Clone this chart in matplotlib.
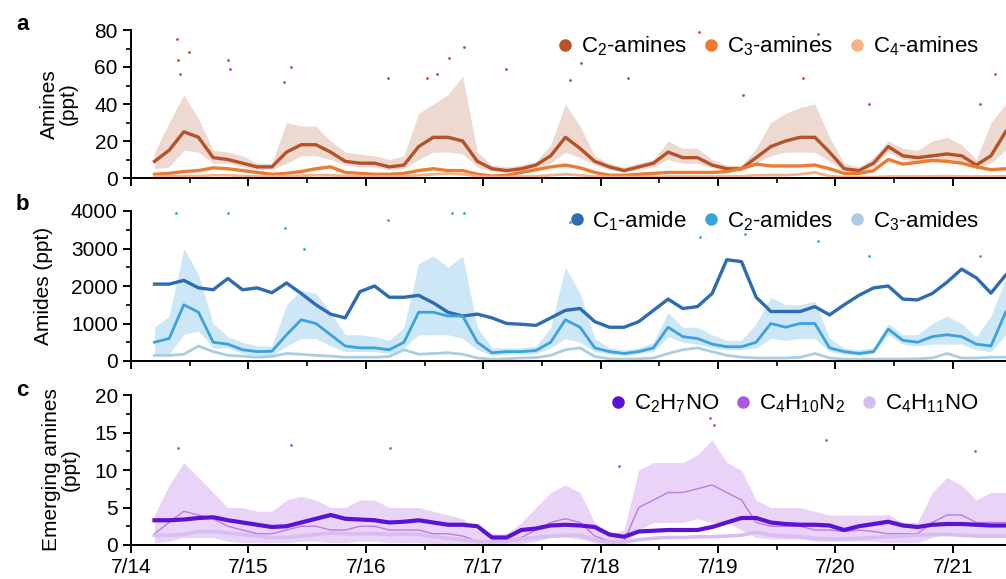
import numpy as np
import matplotlib
matplotlib.use('Agg')
import matplotlib.pyplot as plt
from matplotlib.lines import Line2D
from matplotlib.ticker import MultipleLocator

plt.rcParams['font.family'] = ['Liberation Sans', 'DejaVu Sans']
plt.rcParams['mathtext.fontset'] = 'custom'
plt.rcParams['mathtext.rm'] = 'Liberation Sans'
plt.rcParams['mathtext.it'] = 'Liberation Sans:italic'
plt.rcParams['mathtext.bf'] = 'Liberation Sans:bold'

# ---------------- data (3-hourly readings, day of July) ----------------
t_start, t_step, n_pts = 14.2, 0.125, 59
times = t_start + t_step * np.arange(n_pts)

day_ticks = [14, 15, 16, 17, 18, 19, 20, 21]
day_labels = ['7/14', '7/15', '7/16', '7/17', '7/18', '7/19', '7/20', '7/21']

# panel a: amines (ppt)
c2_amines = [9, 15, 25, 22, 11, 10, 8, 6, 6, 14, 18, 18, 14, 9, 8, 8, 6, 7, 17, 22,
             22, 20, 9, 5, 4, 5, 7, 12, 22, 16, 9, 6, 4, 6, 8, 14, 11, 11, 7, 5,
             5, 11, 17, 20, 22, 22, 14, 5, 4, 8, 17, 12, 11, 12, 13, 12, 7, 12, 25]
c2_amines_hi = [14, 30, 45, 32, 15, 14, 12, 8, 8, 30, 28, 28, 20, 14, 13, 12, 10, 12, 35, 40,
                45, 55, 14, 7, 6, 7, 9, 18, 40, 28, 12, 8, 6, 8, 10, 20, 16, 16, 10, 7,
                7, 16, 30, 35, 38, 40, 22, 8, 6, 11, 20, 16, 15, 20, 22, 18, 10, 30, 40]
c2_amines_lo = [5, 6, 15, 14, 8, 8, 6, 4.5, 4.5, 8, 12, 12, 10, 7, 6, 6, 4.5, 5, 10, 14,
                14, 13, 6, 3.5, 3, 4, 5.5, 8, 14, 11, 7, 4.5, 3, 4.5, 6, 10, 8, 8, 5.5, 4,
                4, 8, 12, 14, 14, 14, 9, 4, 3, 6, 14, 10, 9, 9, 9, 9, 5, 8, 15]
c3_amines = [2, 2.5, 3.5, 4, 5.5, 5, 4, 3, 2, 2.5, 3.5, 5, 6, 3, 2.5, 2, 2, 2.5, 4, 5,
             4, 4, 2, 1, 1.5, 3, 4.5, 6, 7, 5.5, 3, 1.5, 1.5, 2, 2.5, 3, 3, 3, 3, 3.5,
             5, 7.5, 6.5, 6.5, 6.5, 7, 5, 2.5, 2.5, 4, 10, 7.5, 8.5, 9.5, 9, 8, 6, 4.5, 5]
c4_amines = [0.8, 1, 1, 1, 1.5, 1.5, 1, 0.8, 0.8, 1, 1.2, 1.5, 1.5, 1, 1, 0.8, 0.8, 1, 1.5, 2,
             2.5, 2, 1, 0.5, 0.5, 0.8, 1, 1.5, 2, 1.5, 0.8, 0.5, 0.5, 0.5, 0.5, 0.8, 0.8, 0.8, 0.8, 0.8,
             1, 1.5, 1.5, 1.5, 2, 3, 1, 0.5, 0.5, 0.5, 0.8, 0.8, 0.8, 0.8, 1, 0.8, 0.8, 0.8, 1]
amine_spike_t = [14.39, 14.40, 14.42, 14.49, 14.83, 14.84, 15.30, 15.36, 16.19, 16.52, 16.61,
                 16.71, 16.84, 17.19, 17.74, 17.83, 18.23, 18.84, 19.21, 19.72, 19.85, 20.29,
                 21.23, 21.36]
amine_spike_v = [75, 64, 56, 68, 64, 59, 52, 60, 54, 54, 56, 65, 71, 59, 53, 62, 54, 79, 45,
                 54, 78, 40, 40, 56]

# panel b: amides (ppt)
c1_amide = [2050, 2050, 2150, 1950, 1900, 2200, 1900, 1950, 1820, 2080, 1800, 1500, 1250, 1150,
            1850, 2000, 1700, 1700, 1750, 1550, 1300, 1200, 1250, 1150, 1000, 980, 950, 1150,
            1350, 1400, 1050, 900, 900, 1050, 1350, 1650, 1400, 1450, 1800, 2700, 2650, 1700,
            1320, 1320, 1320, 1450, 1230, 1500, 1750, 1950, 2000, 1650, 1630, 1800, 2100, 2450,
            2220, 1810, 2290]
c2_amides = [500, 600, 1500, 1300, 500, 450, 300, 250, 260, 700, 1100, 1000, 700, 400, 350, 350,
             300, 500, 1300, 1300, 1200, 1200, 500, 220, 250, 250, 280, 500, 1100, 900, 350, 250,
             200, 250, 350, 900, 650, 600, 450, 380, 380, 500, 1000, 900, 1000, 1000, 350, 250,
             200, 250, 850, 550, 500, 650, 700, 650, 450, 400, 1300]
c2_amides_hi = [900, 1200, 3000, 2300, 1000, 650, 500, 400, 400, 1500, 1900, 1800, 1300, 700, 700,
                650, 550, 900, 2600, 2800, 2500, 2800, 900, 350, 350, 350, 400, 900, 2500, 1800,
                600, 350, 300, 350, 500, 1300, 900, 900, 700, 550, 550, 1000, 1700, 1500, 1500,
                1600, 600, 350, 300, 350, 1000, 700, 700, 1000, 1200, 1000, 650, 1200, 2200]
c2_amides_lo = [200, 200, 700, 800, 350, 350, 200, 150, 150, 400, 600, 600, 400, 250, 250, 250,
                200, 350, 700, 700, 700, 600, 300, 150, 180, 180, 200, 350, 600, 500, 250, 180,
                150, 200, 250, 650, 500, 450, 350, 300, 300, 350, 600, 550, 600, 600, 250, 180,
                150, 200, 700, 450, 400, 450, 450, 450, 300, 250, 700]
c3_amides = [150, 150, 180, 400, 250, 150, 130, 100, 120, 200, 180, 150, 130, 100, 100, 100, 120,
             300, 180, 200, 220, 180, 80, 50, 60, 80, 90, 150, 300, 350, 120, 60, 50, 60, 80, 200,
             300, 350, 250, 150, 100, 80, 80, 80, 100, 200, 80, 50, 50, 50, 50, 50, 60, 80, 200,
             80, 80, 100, 100]
amide_spike_t = [14.38, 14.83, 15.31, 15.47, 16.19, 16.73, 16.84, 17.74, 18.85, 19.23, 19.85,
                 20.29, 21.23]
amide_spike_v = [3950, 3950, 3550, 3000, 3750, 3950, 3950, 3700, 3300, 3400, 3200, 2800, 2800]

# panel c: emerging amines (ppt)
c2h7no = [3.3, 3.3, 3.4, 3.6, 3.7, 3.3, 3.0, 2.7, 2.4, 2.5, 3.0, 3.5, 4.0, 3.5, 3.4, 3.3, 3.0,
          3.1, 3.3, 3.0, 2.7, 2.7, 2.5, 1.0, 1.0, 2.0, 2.2, 2.6, 2.7, 2.6, 2.4, 1.4, 1.1, 1.8,
          1.9, 2.0, 2.0, 2.0, 2.4, 3.0, 3.6, 3.6, 3.0, 2.8, 2.7, 2.7, 2.6, 2.0, 2.5, 2.8, 3.1,
          2.6, 2.4, 2.7, 2.8, 2.8, 2.7, 2.6, 2.6]
c4h10n2 = [1.5, 3, 4.5, 4, 3.5, 2.5, 2, 1.5, 1.5, 2, 2.5, 2.5, 2, 2, 2.5, 2.5, 2, 2, 2, 1.5,
           1.5, 1.2, 0.5, 0.5, 0.6, 1, 2, 3, 3.5, 3, 1.2, 0.5, 0.5, 5, 6, 7, 7, 7.5, 8, 7,
           6, 3, 2.5, 2.5, 2.5, 2, 2, 1.8, 2, 1.8, 1.5, 1.5, 1.5, 3, 4, 4, 3, 3, 3]
c4h10n2_hi = [4, 8, 11, 9, 7, 5, 5, 4.5, 4.5, 6, 6.5, 6, 5, 5, 6, 6, 5, 5, 5, 4.5,
              4, 3.5, 2, 1.5, 1.5, 3, 5, 7, 8, 7, 3, 1.5, 2, 10, 11, 11, 11, 12, 14, 11,
              10, 6, 5, 5, 5, 4.5, 4, 4, 4, 4, 4, 3, 3, 7, 9, 8, 6, 7, 7]
c4h10n2_lo = [0.3, 0.5, 1, 1, 1, 0.5, 0.3, 0.3, 0.3, 0.3, 0.5, 0.5, 0.3, 0.3, 0.5, 0.5, 0.3, 0.3,
              0.3, 0.2, 0.2, 0.2, 0.1, 0.1, 0.1, 0.2, 0.5, 1, 1, 0.8, 0.3, 0.1, 0.1, 2, 3, 3, 3,
              3.5, 3, 3, 2, 1, 0.8, 0.8, 0.8, 0.5, 0.5, 0.5, 0.5, 0.5, 0.3, 0.3, 0.3, 1, 1.5,
              1.5, 1, 1, 1]
c4h11no = [1.3, 1.3, 1.4, 1.8, 1.8, 1.6, 1.4, 1.2, 1.0, 1.0, 1.2, 1.4, 1.6, 1.5, 1.5, 1.5, 1.4,
           1.5, 1.4, 1.1, 0.9, 0.7, 0.5, 0.4, 0.5, 0.8, 1.0, 1.2, 1.3, 1.3, 0.7, 0.4, 0.4, 0.7,
           0.9, 1.0, 1.0, 1.1, 1.1, 1.2, 1.3, 1.7, 1.3, 1.2, 1.1, 0.9, 0.8, 0.8, 0.9, 1.0, 1.1,
           1.2, 1.3, 1.4, 1.4, 1.3, 1.2, 1.2, 1.2]
emerg_spike_t = [14.40, 15.36, 16.21, 18.16, 18.34, 18.93, 18.97, 19.92, 21.19]
emerg_spike_v = [13, 13.3, 13, 10.5, 18.5, 17, 16, 14, 12.5]

# ---------------- figure ----------------
W, H = 1006, 579
fig = plt.figure(figsize=(W / 100, H / 100), dpi=100)

left = 131 / W
width = 1 - left
xmin, xmax = 14, 14 + (W - 131) / 117.4

def make_ax(y_bottom_px, y_top_px):
    ax = fig.add_axes([left, 1 - y_bottom_px / H, width, (y_bottom_px - y_top_px) / H])
    ax.set_xlim(xmin, xmax)
    for s in ['top', 'right']:
        ax.spines[s].set_visible(False)
    for s in ['left', 'bottom']:
        ax.spines[s].set_linewidth(1.4)
    ax.set_xticks(day_ticks)
    ax.xaxis.set_minor_locator(MultipleLocator(0.5))
    ax.tick_params(which='major', direction='out', length=6, width=1.4, labelsize=15)
    ax.tick_params(which='minor', direction='out', length=3.5, width=1.2)
    return ax

ax_a = make_ax(178, 30)
ax_b = make_ax(361, 211)
ax_c = make_ax(545, 395)

# panel a
col_c2a, col_c3a, col_c4a = '#b5522a', '#ec7a30', '#f6b184'
ax_a.fill_between(times, c2_amines_lo, c2_amines_hi, color=col_c2a, alpha=0.22, lw=0)
ax_a.plot(times, c2_amines, color=col_c2a, lw=2.4)
ax_a.scatter(amine_spike_t, amine_spike_v, s=4, color=col_c2a, lw=0)
ax_a.plot(times, c3_amines, color=col_c3a, lw=2.4)
ax_a.plot(times, c4_amines, color=col_c4a, lw=2.0)
ax_a.set_ylim(0, 80)
ax_a.yaxis.set_major_locator(MultipleLocator(20))
ax_a.yaxis.set_minor_locator(MultipleLocator(10))
ax_a.set_ylabel('Amines\n(ppt)', fontsize=15, linespacing=1.0)
ax_a.yaxis.set_label_coords((78 - 131) / 875, 0.5)
ax_a.tick_params(axis='x', labelbottom=False)

# panel b
col_c1d, col_c2d, col_c3d = '#2d6cb2', '#3aa2dc', '#aacde2'
ax_b.plot(times, c1_amide, color=col_c1d, lw=2.4)
ax_b.fill_between(times, c2_amides_lo, c2_amides_hi, color=col_c2d, alpha=0.25, lw=0)
ax_b.plot(times, c2_amides, color=col_c2d, lw=2.0)
ax_b.scatter(amide_spike_t, amide_spike_v, s=4, color=col_c2d, lw=0)
ax_b.plot(times, c3_amides, color=col_c3d, lw=2.0)
ax_b.set_ylim(0, 4000)
ax_b.yaxis.set_major_locator(MultipleLocator(1000))
ax_b.yaxis.set_minor_locator(MultipleLocator(500))
ax_b.set_ylabel('Amides (ppt)', fontsize=15)
ax_b.yaxis.set_label_coords((53 - 131) / 875, 0.5)
ax_b.tick_params(axis='x', labelbottom=False)

# panel c
col_e1, col_e2, col_e3 = '#5a12d4', '#a956e0', '#d8bcf2'
ax_c.fill_between(times, c4h10n2_lo, c4h10n2_hi, color=col_e2, alpha=0.25, lw=0)
ax_c.plot(times, c4h10n2, color=col_e2, lw=1.0, alpha=0.7)
ax_c.scatter(emerg_spike_t, emerg_spike_v, s=4, color=col_e2, lw=0)
ax_c.plot(times, c4h11no, color=col_e3, lw=2.6)
ax_c.plot(times, c2h7no, color=col_e1, lw=3.0)
ax_c.set_ylim(0, 20)
ax_c.yaxis.set_major_locator(MultipleLocator(5))
ax_c.yaxis.set_minor_locator(MultipleLocator(2.5))
ax_c.set_ylabel('Emerging amines\n(ppt)', fontsize=15, linespacing=1.0)
ax_c.yaxis.set_label_coords((80 - 131) / 875, 0.5)
ax_c.set_xticklabels(day_labels)

def legend(ax, cols, labels, y):
    handles = [Line2D([], [], ls='', marker='o', ms=8, color=c) for c in cols]
    ax.legend(handles, labels, loc='center right', bbox_to_anchor=(0.979, y), ncol=3,
              frameon=False, fontsize=16, handletextpad=0.2, columnspacing=0.6,
              handlelength=1.0, borderaxespad=0)

legend(ax_a, [col_c2a, col_c3a, col_c4a],
       [r'C$_2$-amines', r'C$_3$-amines', r'C$_4$-amines'], 0.89)
legend(ax_b, [col_c1d, col_c2d, col_c3d],
       [r'C$_1$-amide', r'C$_2$-amides', r'C$_3$-amides'], 0.935)
legend(ax_c, [col_e1, col_e2, col_e3],
       [r'C$_2$H$_7$NO', r'C$_4$H$_{10}$N$_2$', r'C$_4$H$_{11}$NO'], 0.94)

for lab, ypx in [('a', 24), ('b', 205), ('c', 390)]:
    fig.text(16 / W, 1 - ypx / H, lab, fontsize=16, fontweight='bold', va='center', ha='left')

fig.savefig('out.png', dpi=100)
